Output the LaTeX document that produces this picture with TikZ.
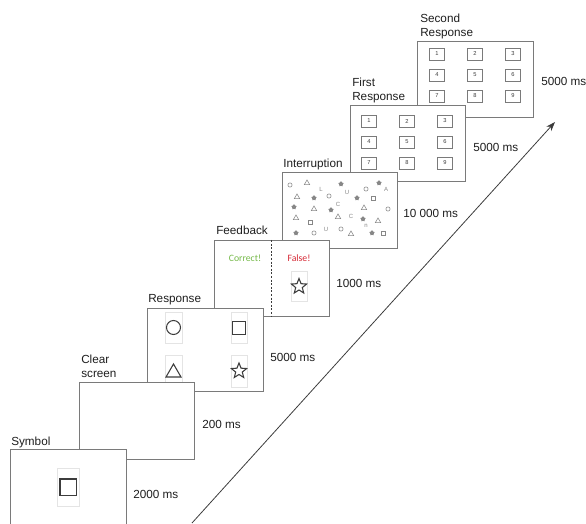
\documentclass[tikz,border=0pt]{standalone}
\usepackage{fontspec}
\setmainfont{Liberation Sans}
\newfontfamily\smallsans{Carlito}
\usetikzlibrary{arrows.meta,shapes.geometric}

\definecolor{frameline}{RGB}{122,122,122}
\definecolor{boxline}{RGB}{228,228,228}
\definecolor{shapeline}{RGB}{60,60,60}
\definecolor{scattergray}{RGB}{135,135,135}
\definecolor{okgreen}{RGB}{118,186,74}
\definecolor{badred}{RGB}{214,40,52}
\definecolor{labeltext}{RGB}{30,30,30}

% 3x3 grid of numbered keys: name, centre of key 1
\newcommand{\keypad}[3]{%
  \foreach \r in {0,1,2}{%
    \foreach \c in {0,1,2}{%
      \pgfmathtruncatemacro{\k}{3*\r+\c+1}
      \node[keybox] (#1-\k) at ({#2+38*\c},{#3+21*\r}) {\k};
    }}}

\begin{document}
\begin{tikzpicture}[x=0.75pt,y=0.75pt,yscale=-1,
  screen/.style={draw=frameline,fill=white,line width=0.6},
  stimbox/.style={draw=boxline,fill=white,line width=0.5},
  stimshape/.style={draw=shapeline,line width=0.8},
  keybox/.style={draw=frameline,fill=white,line width=0.45,minimum width=11.25pt,minimum height=9pt,inner sep=0pt,font=\fontsize{4.3}{4.5}\selectfont,text=shapeline},
  phase/.style={anchor=north west,inner sep=0pt,align=left,text=labeltext,font=\fontsize{8.8}{10.5}\selectfont},
  duration/.style={anchor=west,inner sep=0pt,text=labeltext,font=\fontsize{8.8}{10.5}\selectfont},
  ring/.style={circle,draw=scattergray,line width=0.4,minimum size=3.2pt,inner sep=0pt},
  tri/.style={regular polygon,regular polygon sides=3,draw=scattergray,line width=0.4,minimum size=4.6pt,inner sep=0pt},
  spark/.style={star,star points=5,fill=scattergray,minimum size=4.2pt,inner sep=0pt},
  sq/.style={rectangle,draw=scattergray,line width=0.4,minimum size=3.2pt,inner sep=0pt},
  glyph/.style={inner sep=0pt,text=scattergray,font=\fontsize{4.5}{5}\selectfont}]
\useasboundingbox (0,0) rectangle (586,524);
\clip (0,0) rectangle (586,524);

%Time axis
\coordinate (tstart) at (192,523);
\coordinate (tend) at (555,122);
\draw [draw=shapeline,line width=0.6,-{Stealth[length=7pt,width=5pt]}] (tstart) -- (tend);

%Second response screen
\draw [screen] (417,41) rectangle (533,117);
\keypad{second}{437}{54}
\node [phase] (lbl-second) at (420,13.5) {Second\\Response};
\node [duration] (t-second) at (541,81) {5000 ms};

%First response screen
\draw [screen] (350,105) rectangle (465,181);
\keypad{first}{369}{121}
\node [phase] (lbl-first) at (352,78) {First\\Response};
\node [duration] (t-first) at (473,147) {5000 ms};

%Interruption screen
\draw [screen] (282,172) rectangle (397,248);
\foreach \px/\py [count=\i] in {290/185,366/189,329/196,388/209,314/233,341/229}
  \node [ring] (ring\i) at (\px,\py) {};
\foreach \px/\py [count=\i] in {307/183,297/197,314/209,364/208,296/218,338/217,378/221,351/234}
  \node [tri] (tri\i) at (\px,\py) {};
\foreach \px/\py [count=\i] in {341/184,379/183,314/198,357/198,294/207,331/210,363/219,296/233,372/233}
  \node [spark] (spark\i) at (\px,\py) {};
\foreach \px/\py [count=\i] in {373/198,310/222,383/233}
  \node [sq] (sq\i) at (\px,\py) {};
\node [glyph] (gl1) at (321,189) {L};
\node [glyph] (gl2) at (347,192) {U};
\node [glyph] (gl3) at (386,189) {A};
\node [glyph] (gl4) at (338,204) {C};
\node [glyph] (gl5) at (351,216) {C};
\node [glyph] (gl6) at (366,226) {n};
\node [glyph] (gl7) at (326,229) {U};
\node [phase] (lbl-interrupt) at (283,158.5) {Interruption};
\node [duration] (t-interrupt) at (403,213) {10 000 ms};

%Feedback screen
\draw [screen] (214,240) rectangle (329,316);
\draw [draw=shapeline,line width=0.5,dash pattern=on 1.5pt off 1.2pt] (271.5,240) -- (271.5,316);
\node [inner sep=0pt,text=okgreen,font=\smallsans\fontsize{7.3}{8}\selectfont] (fb-ok) at (245,258) {Correct!};
\node [inner sep=0pt,text=badred,font=\smallsans\fontsize{7.3}{8}\selectfont] (fb-bad) at (299,258) {False!};
\draw [stimbox] (291,271) rectangle (307,301);
\node [star,star points=5,star point ratio=2.3,stimshape,minimum size=12pt,inner sep=0pt] (fb-star) at (299,286.5) {};
\node [phase] (lbl-feedback) at (216,226) {Feedback};
\node [duration] (t-feedback) at (336,283) {1000 ms};

%Response screen
\draw [screen] (147,308) rectangle (263,391);
\draw [stimbox] (165,312) rectangle (182,343);
\draw [stimbox] (231,312) rectangle (247,343);
\draw [stimbox] (165,355) rectangle (182,387);
\draw [stimbox] (231,355) rectangle (247,387);
\draw [stimshape] (173.5,327.5) circle [radius=7];
\draw [stimshape] (232.5,321.5) rectangle (245.5,334.5);
\draw [stimshape] (166,377) -- (173.5,364) -- (181,377) -- cycle;
\node [star,star points=5,star point ratio=2.3,stimshape,minimum size=12pt,inner sep=0pt] (resp-star) at (239,371) {};
\node [phase] (lbl-response) at (148,294) {Response};
\node [duration] (t-response) at (270,357) {5000 ms};

%Clear screen
\draw [screen] (79,382) rectangle (194,459);
\node [phase] (lbl-clear) at (81,355) {Clear\\screen};
\node [duration] (t-clear) at (202,424) {200 ms};

%Symbol screen
\draw [screen] (10,449) rectangle (126,530);
\draw [stimbox] (57,468) rectangle (79,506);
\draw [stimshape,line width=1.1] (60,479) rectangle (76.5,495.5);
\node [phase] (lbl-symbol) at (11,436.5) {Symbol};
\node [duration] (t-symbol) at (133,494) {2000 ms};

\end{tikzpicture}
\end{document}
